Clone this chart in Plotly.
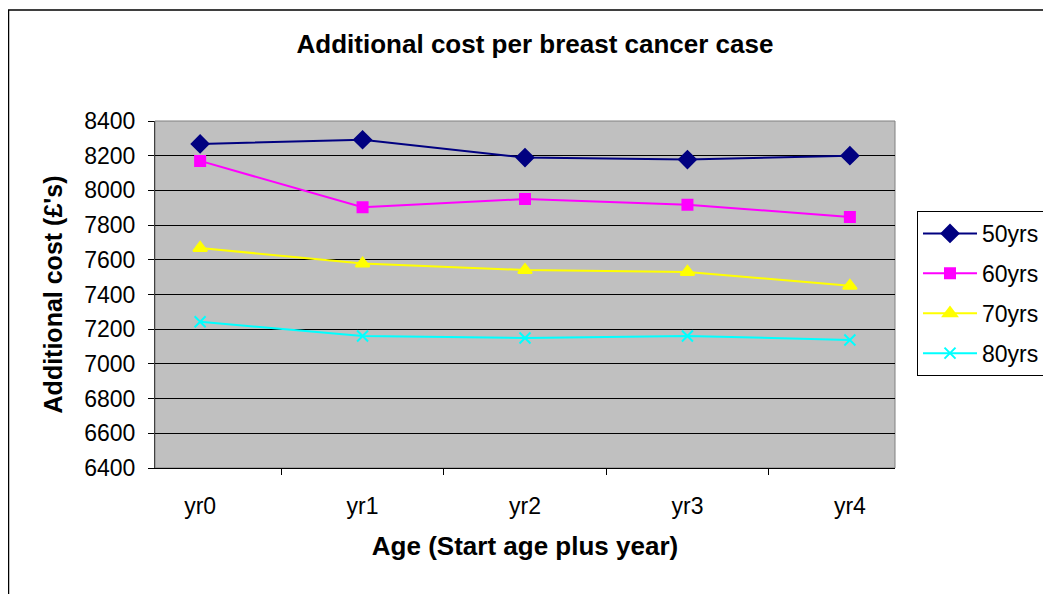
import plotly.graph_objects as go

years = ["yr0", "yr1", "yr2", "yr3", "yr4"]
cost_50 = [8268, 8292, 8189, 8178, 8200]
cost_60 = [8170, 7903, 7950, 7918, 7847]
cost_70 = [7668, 7578, 7541, 7530, 7450]
cost_80 = [7243, 7161, 7149, 7161, 7138]

series = [
    ("50yrs", cost_50, "#000080", "diamond", 13),
    ("60yrs", cost_60, "#FF00FF", "square", 10),
    ("70yrs", cost_70, "#FFFF00", "triangle-up", 12),
    ("80yrs", cost_80, "#00FFFF", "x-thin-open", 11),
]

# the page adds an 8px body margin, so everything is shifted back by 8px
W, H = 1051, 594
L, R, T, B = 147, 887, 113, 460


def px_x(p):
    return (p - L) / (R - L)


def px_y(p):
    return (B - p) / (B - T)


fig = go.Figure()
for name, vals, color, symbol, size in series:
    fig.add_trace(
        go.Scatter(
            x=years,
            y=vals,
            name=name,
            legendgroup=name,
            mode="lines+markers",
            line=dict(color=color, width=2),
            marker=dict(
                symbol=symbol,
                size=size,
                color=color,
                line=dict(color=color, width=2),
            ),
        )
    )

font = "Arial, Liberation Sans, sans-serif"

# plot area frame and outer chart border
fig.add_shape(type="rect", xref="paper", yref="paper", x0=0, x1=1, y0=0, y1=1,
              line=dict(color="#808080", width=1), layer="below")
fig.add_shape(type="rect", xref="paper", yref="paper",
              x0=px_x(0.5), x1=px_x(1100), y0=px_y(2), y1=px_y(650),
              line=dict(color="black", width=1.5))

fig.update_layout(
    width=W,
    height=H,
    margin=dict(l=L, r=W - R, t=T, b=H - B, autoexpand=False),
    paper_bgcolor="white",
    plot_bgcolor="#C0C0C0",
    font=dict(family=font, color="black", size=22),
    title=dict(
        text="<b>Additional cost per breast cancer case</b>",
        x=527 / W,
        xref="container",
        xanchor="center",
        y=1 - 36 / H,
        yanchor="middle",
        font=dict(size=26),
    ),
    showlegend=True,
    legend=dict(
        x=px_x(909),
        y=px_y(203),
        xanchor="left",
        yanchor="top",
        bordercolor="black",
        borderwidth=1,
        bgcolor="white",
        font=dict(size=23),
        itemwidth=54,
        tracegroupgap=7,
    ),
    xaxis=dict(
        type="category",
        showgrid=False,
        showline=True,
        linecolor="black",
        linewidth=1,
        ticks="outside",
        tickson="boundaries",
        ticklen=6,
        tickcolor="black",
        ticklabelstandoff=17,
        tickfont=dict(size=23),
        title=dict(text="<b>Age (Start age plus year)</b>", font=dict(size=26), standoff=19),
    ),
    yaxis=dict(
        range=[6400, 8400],
        dtick=200,
        tick0=6400,
        showgrid=True,
        gridcolor="black",
        gridwidth=1,
        showline=True,
        linecolor="#404040",
        linewidth=1,
        ticks="outside",
        ticklen=6,
        tickcolor="black",
        ticklabelstandoff=8,
        tickfont=dict(size=23),
        zeroline=False,
        title=dict(text="<b>Additional cost (£'s)</b>", font=dict(size=25), standoff=14),
    ),
)

fig.write_html("out.html")
